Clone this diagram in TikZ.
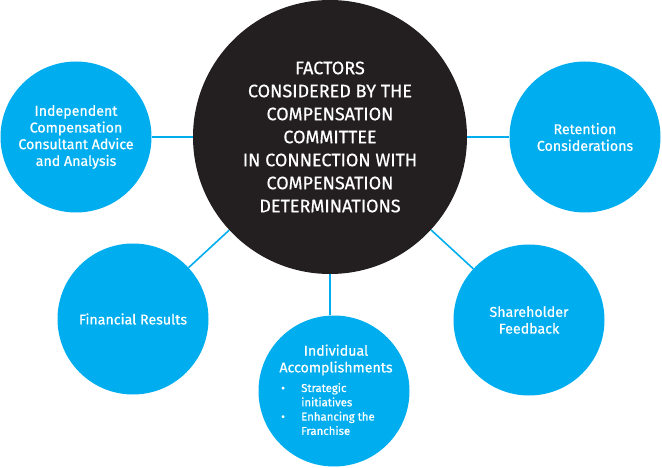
\documentclass[tikz,border=0pt]{standalone}
\usepackage{fontspec}
\setmainfont{Fira Sans}[FakeBold=0.6]
\definecolor{cblue}{HTML}{00AEEF}
\definecolor{cdark}{HTML}{231F20}
\begin{document}
\begin{tikzpicture}[x=1pt,y=-1pt,
  hub/.style={circle, fill=cdark, minimum size=274pt, inner sep=0pt, text=white, align=center, font=\fontsize{18}{23}\selectfont},
  leaf/.style={circle, fill=cblue, minimum size=151pt, inner sep=0pt, text=white, align=center, font=\fontsize{14.2}{16.7}\selectfont},
  plain/.style={inner sep=0pt, text=white},
  link/.style={draw=cblue, line width=1.6pt}]
\useasboundingbox (0,0) rectangle (662,468);
\node[hub] (hub) at (330,137) {FACTORS\\CONSIDERED BY THE\\COMPENSATION\\COMMITTEE\\IN CONNECTION WITH\\COMPENSATION\\DETERMINATIONS};
\node[leaf] (tl) at (76,137) {Independent\\Compensation\\Consultant Advice\\and Analysis};
\node[leaf] (ret) at (585,137) {Retention\\Considerations};
\node[leaf] (fin) at (133,319) {Financial Results};
\node[leaf] (sh) at (529,320) {Shareholder\\Feedback};
\node[leaf] (ind) at (334,391) {};
\node[plain, align=center, font=\fontsize{14.2}{16.7}\selectfont] (indt) at (336,360) {Individual\\Accomplishments};
\node[plain, anchor=base west, font=\fontsize{11.4}{14.3}\selectfont] (indl) at (281,392)
  {\begin{tabular}[t]{@{}p{20pt}@{}l@{}}\textbullet & Strategic\\ & initiatives\\ \textbullet & Enhancing the\\ & Franchise\end{tabular}};
\draw[link] (hub) -- (tl);
\draw[link] (hub) -- (ret);
\draw[link] (hub) -- (fin);
\draw[link] (hub) -- (sh);
\draw[link] (hub.south) -- (hub.south |- ind.north);
\end{tikzpicture}
\end{document}
